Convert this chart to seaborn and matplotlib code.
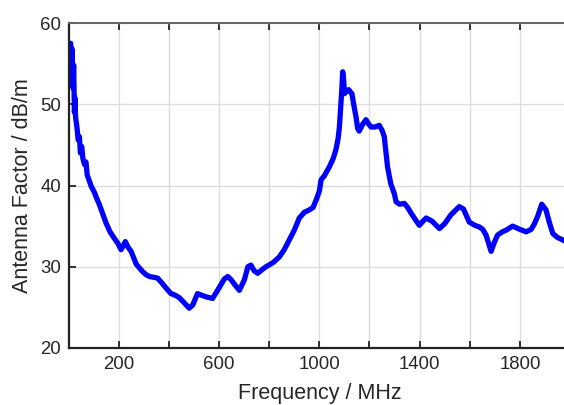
import numpy as np
import pandas as pd
import matplotlib
matplotlib.use("Agg")
import matplotlib.pyplot as plt
from matplotlib.ticker import MultipleLocator, FuncFormatter
import seaborn as sns

# antenna factor
freq_mhz = [8, 11, 14, 17, 20, 23, 25, 28, 33, 38, 43, 47, 52, 57, 63, 69, 74, 82,
            90, 102, 112, 122, 135, 149, 165, 182, 196, 209, 218, 226, 237, 249,
            270, 295, 310, 322, 340, 355, 372, 388, 408, 425, 441, 460, 481, 495,
            514, 530, 548, 574, 600, 621, 635, 648, 665, 681, 701, 715, 727, 740,
            754, 770, 787, 815, 840, 860, 880, 900, 920, 940, 960, 975, 987, 1000,
            1007, 1020, 1040, 1055, 1066, 1075, 1080, 1086, 1090, 1093, 1097, 1100,
            1108, 1117, 1124, 1130, 1138, 1146, 1153, 1159, 1172, 1186, 1196, 1206,
            1222, 1239, 1250, 1259, 1272, 1285, 1299, 1306, 1320, 1339, 1352, 1366,
            1383, 1399, 1413, 1426, 1450, 1479, 1500, 1525, 1545, 1558, 1575, 1598,
            1620, 1638, 1652, 1665, 1675, 1685, 1698, 1711, 1730, 1745, 1771, 1800,
            1825, 1845, 1858, 1872, 1887, 1904, 1918, 1931, 1950, 1971, 2000]
af_dbm = [57.5, 55.5, 56.8, 52.0, 54.8, 49.0, 50.8, 48.3, 47.2, 45.6, 46.0, 44.0,
          44.8, 43.3, 42.6, 42.9, 41.3, 40.6, 39.9, 39.2, 38.4, 37.7, 36.6, 35.4,
          34.3, 33.5, 32.9, 32.1, 32.6, 33.1, 32.4, 31.9, 30.3, 29.4, 29.0, 28.8,
          28.7, 28.6, 28.0, 27.4, 26.7, 26.5, 26.2, 25.6, 24.9, 25.3, 26.7, 26.5,
          26.3, 26.1, 27.4, 28.5, 28.8, 28.4, 27.7, 27.1, 28.4, 30.0, 30.2, 29.5,
          29.2, 29.6, 30.0, 30.5, 31.2, 32.1, 33.3, 34.5, 36.0, 36.7, 37.0, 37.3,
          38.2, 39.3, 40.7, 41.2, 42.3, 43.3, 44.4, 45.8, 47.2, 50.1, 52.0, 54.0,
          53.0, 51.3, 51.6, 51.8, 51.5, 51.3, 49.8, 48.5, 47.0, 46.7, 47.5, 48.1,
          47.6, 47.2, 47.2, 47.4, 46.8, 46.0, 42.3, 40.2, 39.0, 38.0, 37.7, 37.8,
          37.3, 36.6, 35.8, 35.1, 35.6, 36.0, 35.6, 34.7, 35.3, 36.4, 37.0, 37.4,
          37.1, 35.5, 35.1, 34.9, 34.6, 33.9, 32.9, 31.9, 33.0, 33.9, 34.3, 34.5,
          35.0, 34.6, 34.3, 34.6, 35.3, 36.3, 37.7, 37.0, 35.4, 34.1, 33.6, 33.3, 32.8]

df = pd.DataFrame({"freq": freq_mhz, "af": af_dbm})

sns.set_theme(style="whitegrid")
plt.rcParams["font.family"] = ["Liberation Sans", "DejaVu Sans"]

fig = plt.figure(figsize=(5.64, 4.05), dpi=100)
ax = fig.add_axes([69.4 / 564, 57 / 405, 1997 * 0.2507 / 564, 325 / 405])

sns.lineplot(data=df, x="freq", y="af", color="#0000ff", linewidth=3.8,
             estimator=None, sort=False, ax=ax,
             solid_joinstyle="round", solid_capstyle="round")

ax.set_xlim(3, 2000)
ax.set_ylim(20, 60)
ax.xaxis.set_major_locator(MultipleLocator(200))
ax.yaxis.set_major_locator(MultipleLocator(10))
ax.xaxis.set_major_formatter(FuncFormatter(
    lambda v, p: f"{int(v)}" if int(round(v)) % 400 == 200 else ""))

ax.grid(True, color="#dcdcdc", linewidth=1.0)
ax.tick_params(axis="both", direction="in", length=5, width=1.3, color="#222222",
               labelsize=13.4, labelcolor="#262626", pad=6)
ax.tick_params(axis="x", top=True, bottom=True)
ax.tick_params(axis="y", left=True, right=False)

for side in ["left", "bottom"]:
    ax.spines[side].set_color("#222222")
    ax.spines[side].set_linewidth(1.6)
ax.spines["top"].set_color("#666666")
ax.spines["top"].set_linewidth(1.4)
ax.spines["right"].set_visible(False)

ax.set_xlabel("Frequency / MHz", fontsize=15.5, color="#262626", labelpad=7)
ax.set_ylabel("Antenna Factor / dB/m", fontsize=15.5, color="#262626", labelpad=5)

fig.savefig("out.png", dpi=100)
